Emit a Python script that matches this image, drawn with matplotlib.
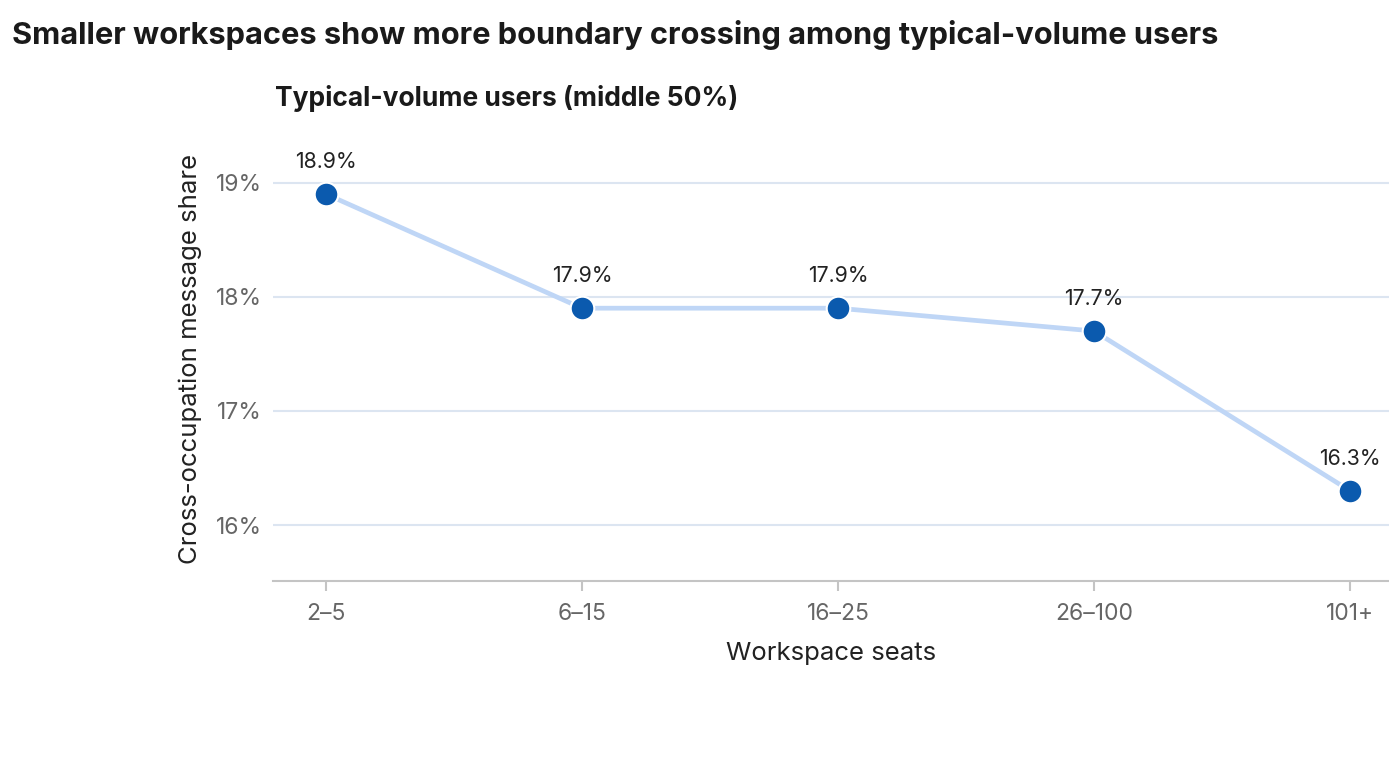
import matplotlib.pyplot as plt

# data
seats = ["2\u20135", "6\u201315", "16\u201325", "26\u2013100", "101+"]
share = [18.9, 17.9, 17.9, 17.7, 16.3]
yticks = [16, 17, 18, 19]

plt.rcParams['font.family'] = ['Inter', 'DejaVu Sans']

fig = plt.figure(figsize=(13.89, 7.81), dpi=100)
ax = fig.add_axes([0.1965, 0.2561, 0.8035, 0.5685])

x = list(range(len(seats)))
ax.plot(x, share, color='#BFD6F6', lw=3.4, zorder=2)
ax.plot(x, share, 'o', ms=17, color='#0B5AAE', mec='white', mew=1.5, zorder=3)

for xi, v in zip(x, share):
    ax.annotate(f"{v:.1f}%", (xi, v), xytext=(0, 16), textcoords='offset points',
                ha='center', va='bottom', fontsize=15.3, color='#222222')

ax.set_xlim(-0.207, 4.152)
ax.set_ylim(15.51, 19.4)
ax.set_xticks(x)
ax.set_xticklabels(seats)
ax.set_yticks(yticks)
ax.set_yticklabels([f"{t}%" for t in yticks])
ax.yaxis.grid(True, color='#DCE5F1', lw=1.5)
ax.set_axisbelow(True)

for s in ['top', 'right', 'left']:
    ax.spines[s].set_visible(False)
ax.spines['bottom'].set_color('#C4C4C4')
ax.spines['bottom'].set_linewidth(1.5)
ax.tick_params(axis='x', length=7, width=1.5, color='#C4C4C4', labelsize=16.5,
               labelcolor='#666666', pad=9)
ax.tick_params(axis='y', length=0, labelsize=16.5, labelcolor='#666666', pad=8)

ax.set_xlabel("Workspace seats", fontsize=18.5, color='#222222', labelpad=12)
ax.set_ylabel("Cross-occupation message share", fontsize=18.5, color='#222222', labelpad=10)

fig.text(0.0086, 0.955, "Smaller workspaces show more boundary crossing among typical-volume users",
         fontsize=22.2, fontweight='bold', color='#1a1a1a', va='center')
fig.text(0.198, 0.874, "Typical-volume users (middle 50%)",
         fontsize=19, fontweight='bold', color='#1a1a1a', va='center')

fig.savefig("out.png", dpi=100)
